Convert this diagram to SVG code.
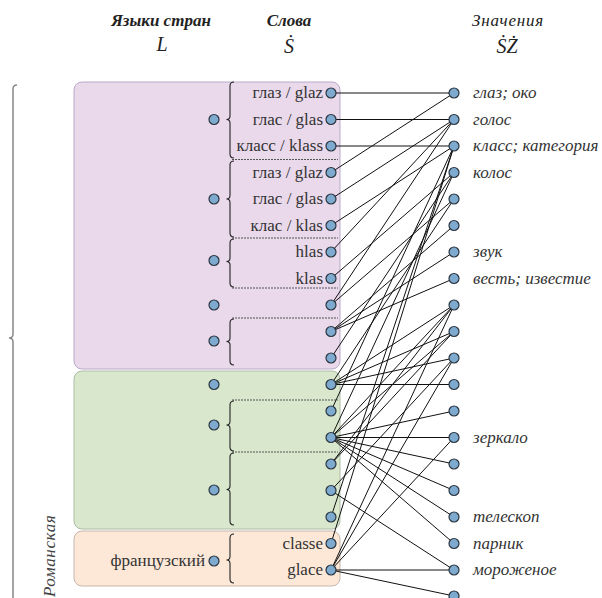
<svg xmlns="http://www.w3.org/2000/svg" width="602" height="598" viewBox="0 0 602 598">
<style>
text{font-family:"Liberation Serif","Times New Roman","DejaVu Serif",serif}
.hb{font-size:17px;font-weight:bold;font-style:italic;fill:#222;text-anchor:middle}
.hi{font-size:17px;font-style:italic;fill:#222;text-anchor:middle;letter-spacing:0.8px}
.sym{font-size:20px;font-style:italic;fill:#222;text-anchor:middle}
.w{font-size:17px;fill:#333;text-anchor:end}
.m{font-size:17px;font-style:italic;fill:#333}
.n circle{fill:#7eaacf;stroke:#2b3540;stroke-width:1.2}
.br{fill:none;stroke:#222;stroke-width:1.1}
.dot{stroke:#555;stroke-width:1;stroke-dasharray:2 1}
#connectors line{stroke:#111;stroke-width:1}
</style>
<text class="hb" x="161" y="26">Языки стран</text>
<text class="sym" x="162" y="51">L</text>
<text class="hb" x="289" y="26">Слова</text>
<text class="sym" x="289" y="53">Ṡ</text>
<text class="hi" x="508" y="26">Значения</text>
<text class="sym" x="507" y="53">ṠŻ</text>
<path d="M17,85 Q13,85 13,89 L13,334 Q13,338 9,338 Q13,338 13,342 L13,598" fill="none" stroke="#888" stroke-width="1.5"/>
<text class="m" transform="translate(55,597) rotate(-90)" style="fill:#444;letter-spacing:0.6px">Романская</text>
<g id="box-purple"><rect x="74" y="82" width="266" height="287" rx="8" fill="#e9d9eb" stroke="#b9abc8"/></g>
<g id="box-green"><rect x="74" y="371" width="266" height="158" rx="8" fill="#d9e8cd" stroke="#aebca6"/></g>
<g id="box-orange"><rect x="74" y="531" width="266" height="55" rx="8" fill="#fde8d8" stroke="#c4b6ac"/></g>
<g id="dotted">
<line class="dot" x1="232" y1="159.5" x2="338" y2="159.5"/>
<line class="dot" x1="232" y1="238" x2="338" y2="238"/>
<line class="dot" x1="232" y1="288" x2="338" y2="288"/>
<line class="dot" x1="232" y1="318" x2="338" y2="318"/>
<line class="dot" x1="232" y1="400" x2="338" y2="400"/>
<line class="dot" x1="232" y1="452" x2="338" y2="452"/>
</g>
<g id="braces">
<path class="br" d="M234,82 Q230,82 230,86 L230,116 Q230,119.5 226.5,119.5 Q230,119.5 230,123 L230,154 Q230,158 234,158"/>
<path class="br" d="M234,161 Q230,161 230,165 L230,195.5 Q230,199 226.5,199 Q230,199 230,202.5 L230,233 Q230,237 234,237"/>
<path class="br" d="M234,239 Q230,239 230,243 L230,258 Q230,261.5 226.5,261.5 Q230,261.5 230,265 L230,283 Q230,287 234,287"/>
<path class="br" d="M234,319 Q230,319 230,323 L230,338 Q230,341.5 226.5,341.5 Q230,341.5 230,345 L230,361 Q230,365 234,365"/>
<path class="br" d="M234,401 Q230,401 230,405 L230,421.5 Q230,425 226.5,425 Q230,425 230,428.5 L230,447 Q230,451 234,451"/>
<path class="br" d="M234,453 Q230,453 230,457 L230,486 Q230,489.5 226.5,489.5 Q230,489.5 230,493 L230,521 Q230,525 234,525"/>
<path class="br" d="M234,534 Q230,534 230,538 L230,556.5 Q230,560 226.5,560 Q230,560 230,563.5 L230,579 Q230,583 234,583"/>
</g>
<g id="connectors">
<line x1="331" y1="93" x2="454" y2="93"/>
<line x1="331" y1="119.5" x2="454" y2="119.5"/>
<line x1="331" y1="146" x2="454" y2="146"/>
<line x1="331" y1="172.5" x2="454" y2="93"/>
<line x1="331" y1="199" x2="454" y2="119.5"/>
<line x1="331" y1="225.5" x2="454" y2="146"/>
<line x1="331" y1="252" x2="454" y2="119.5"/>
<line x1="331" y1="278.5" x2="454" y2="172.5"/>
<line x1="331" y1="305" x2="454" y2="119.5"/>
<line x1="331" y1="305" x2="454" y2="199"/>
<line x1="331" y1="331.5" x2="454" y2="225.5"/>
<line x1="331" y1="331.5" x2="454" y2="252"/>
<line x1="331" y1="331.5" x2="454" y2="278.5"/>
<line x1="331" y1="358" x2="454" y2="172.5"/>
<line x1="331" y1="384.5" x2="454" y2="305"/>
<line x1="331" y1="384.5" x2="454" y2="331.5"/>
<line x1="331" y1="384.5" x2="454" y2="358"/>
<line x1="331" y1="384.5" x2="454" y2="384.5"/>
<line x1="331" y1="384.5" x2="454" y2="199"/>
<line x1="331" y1="411" x2="454" y2="146"/>
<line x1="331" y1="437.5" x2="454" y2="305"/>
<line x1="331" y1="437.5" x2="454" y2="331.5"/>
<line x1="331" y1="437.5" x2="454" y2="411"/>
<line x1="331" y1="437.5" x2="454" y2="437.5"/>
<line x1="331" y1="437.5" x2="454" y2="464"/>
<line x1="331" y1="437.5" x2="454" y2="490.5"/>
<line x1="331" y1="437.5" x2="454" y2="517"/>
<line x1="331" y1="437.5" x2="454" y2="543.5"/>
<line x1="331" y1="437.5" x2="454" y2="172.5"/>
<line x1="331" y1="464" x2="454" y2="305"/>
<line x1="331" y1="464" x2="454" y2="331.5"/>
<line x1="331" y1="490.5" x2="454" y2="570"/>
<line x1="331" y1="490.5" x2="454" y2="358"/>
<line x1="331" y1="517" x2="454" y2="146"/>
<line x1="331" y1="543.5" x2="454" y2="146"/>
<line x1="331" y1="570" x2="454" y2="305"/>
<line x1="331" y1="570" x2="454" y2="358"/>
<line x1="331" y1="570" x2="454" y2="437.5"/>
<line x1="331" y1="570" x2="454" y2="570"/>
<line x1="331" y1="570" x2="454" y2="596"/>
</g>
<g id="lang-1" class="n"><circle cx="214" cy="119.5" r="5"/></g>
<g id="lang-2" class="n"><circle cx="214" cy="199" r="5"/></g>
<g id="lang-3" class="n"><circle cx="214" cy="260.5" r="5"/></g>
<g id="lang-4" class="n"><circle cx="214" cy="305" r="5"/></g>
<g id="lang-5" class="n"><circle cx="214" cy="341" r="5"/></g>
<g id="lang-6" class="n"><circle cx="214" cy="384.5" r="5"/></g>
<g id="lang-7" class="n"><circle cx="214" cy="425" r="5"/></g>
<g id="lang-8" class="n"><circle cx="214" cy="490" r="5"/></g>
<g id="lang-fr" class="n"><text class="w" x="205" y="566">французский</text><circle cx="214" cy="561" r="5"/></g>
<g id="w0" class="n"><text class="w" x="323" y="98">глаз / glaz</text><circle cx="331" cy="93" r="5"/></g>
<g id="w1" class="n"><text class="w" x="323" y="124.5">глас / glas</text><circle cx="331" cy="119.5" r="5"/></g>
<g id="w2" class="n"><text class="w" x="323" y="151">класс / klass</text><circle cx="331" cy="146" r="5"/></g>
<g id="w3" class="n"><text class="w" x="323" y="177.5">глаз / glaz</text><circle cx="331" cy="172.5" r="5"/></g>
<g id="w4" class="n"><text class="w" x="323" y="204">глас / glas</text><circle cx="331" cy="199" r="5"/></g>
<g id="w5" class="n"><text class="w" x="323" y="230.5">клас / klas</text><circle cx="331" cy="225.5" r="5"/></g>
<g id="w6" class="n"><text class="w" x="323" y="257">hlas</text><circle cx="331" cy="252" r="5"/></g>
<g id="w7" class="n"><text class="w" x="323" y="283.5">klas</text><circle cx="331" cy="278.5" r="5"/></g>
<g id="w8" class="n"><circle cx="331" cy="305" r="5"/></g>
<g id="w9" class="n"><circle cx="331" cy="331.5" r="5"/></g>
<g id="w10" class="n"><circle cx="331" cy="358" r="5"/></g>
<g id="w11" class="n"><circle cx="331" cy="384.5" r="5"/></g>
<g id="w12" class="n"><circle cx="331" cy="411" r="5"/></g>
<g id="w13" class="n"><circle cx="331" cy="437.5" r="5"/></g>
<g id="w14" class="n"><circle cx="331" cy="464" r="5"/></g>
<g id="w15" class="n"><circle cx="331" cy="490.5" r="5"/></g>
<g id="w16" class="n"><circle cx="331" cy="517" r="5"/></g>
<g id="w17" class="n"><text class="w" x="323" y="548.5">classe</text><circle cx="331" cy="543.5" r="5"/></g>
<g id="w18" class="n"><text class="w" x="323" y="575">glace</text><circle cx="331" cy="570" r="5"/></g>
<g id="m0" class="n"><circle cx="454" cy="93" r="5"/><text class="m" x="473" y="98">глаз; око</text></g>
<g id="m1" class="n"><circle cx="454" cy="119.5" r="5"/><text class="m" x="473" y="124.5">голос</text></g>
<g id="m2" class="n"><circle cx="454" cy="146" r="5"/><text class="m" x="473" y="151">класс; категория</text></g>
<g id="m3" class="n"><circle cx="454" cy="172.5" r="5"/><text class="m" x="473" y="177.5">колос</text></g>
<g id="m4" class="n"><circle cx="454" cy="199" r="5"/></g>
<g id="m5" class="n"><circle cx="454" cy="225.5" r="5"/></g>
<g id="m6" class="n"><circle cx="454" cy="252" r="5"/><text class="m" x="473" y="257">звук</text></g>
<g id="m7" class="n"><circle cx="454" cy="278.5" r="5"/><text class="m" x="473" y="283.5">весть; известие</text></g>
<g id="m8" class="n"><circle cx="454" cy="305" r="5"/></g>
<g id="m9" class="n"><circle cx="454" cy="331.5" r="5"/></g>
<g id="m10" class="n"><circle cx="454" cy="358" r="5"/></g>
<g id="m11" class="n"><circle cx="454" cy="384.5" r="5"/></g>
<g id="m12" class="n"><circle cx="454" cy="411" r="5"/></g>
<g id="m13" class="n"><circle cx="454" cy="437.5" r="5"/><text class="m" x="473" y="442.5">зеркало</text></g>
<g id="m14" class="n"><circle cx="454" cy="464" r="5"/></g>
<g id="m15" class="n"><circle cx="454" cy="490.5" r="5"/></g>
<g id="m16" class="n"><circle cx="454" cy="517" r="5"/><text class="m" x="473" y="522">телескоп</text></g>
<g id="m17" class="n"><circle cx="454" cy="543.5" r="5"/><text class="m" x="473" y="548.5">парник</text></g>
<g id="m18" class="n"><circle cx="454" cy="570" r="5"/><text class="m" x="473" y="575">мороженое</text></g>
<g id="m19" class="n"><circle cx="454" cy="596" r="5"/></g>
</svg>
